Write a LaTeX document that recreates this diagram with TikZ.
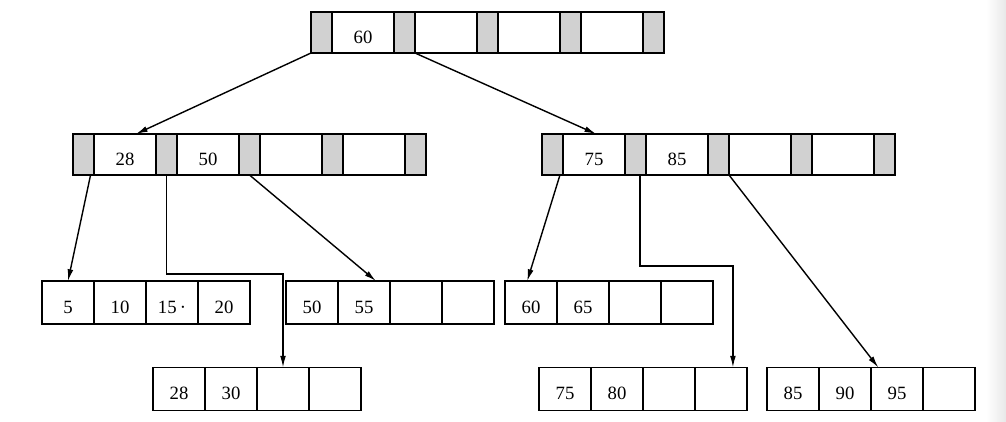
\documentclass[tikz,border=0pt]{standalone}
\usepackage{fontspec}
\setmainfont{Liberation Serif}
\usepackage{tikz}
\usetikzlibrary{positioning,arrows.meta}
\tikzset{
	ptr/.style={draw, line width=1.4pt, fill=black!18, minimum width=0.63cm, minimum height=1.23cm, inner sep=0pt, outer sep=0pt},
	key/.style={draw, line width=1.4pt, minimum width=1.86cm, minimum height=1.23cm, inner sep=0pt, outer sep=0pt, text height=18pt, text depth=0pt, font=\fontsize{16}{19}\selectfont},
	leaf/.style={draw, line width=1.4pt, minimum width=1.56cm, minimum height=1.29cm, inner sep=0pt, outer sep=0pt, text height=18pt, text depth=0pt, font=\fontsize{16}{19}\selectfont},
	link/.style={line width=1.2pt, -{Latex[length=10pt,width=5pt]}}
}

\begin{document}
\begin{tikzpicture}[x=0.03cm, y=-0.03cm]
		%%%%% START %%%%%
		\useasboundingbox (0, 0) rectangle (1006, 422);
		\shade[left color=white, right color=black!9] (986, 0) rectangle (1006, 422);
		
		% root
		\node[ptr, anchor=west] (rp1) at (311, 32.5) {};
		\node[key, right=0pt of rp1] (rk1) {60};
		\node[ptr, right=0pt of rk1] (rp2) {};
		\node[key, right=0pt of rp2] (rk2) {};
		\node[ptr, right=0pt of rk2] (rp3) {};
		\node[key, right=0pt of rp3] (rk3) {};
		\node[ptr, right=0pt of rk3] (rp4) {};
		\node[key, right=0pt of rp4] (rk4) {};
		\node[ptr, right=0pt of rk4] (rp5) {};
		
		% inner left
		\node[ptr, anchor=west] (ap1) at (73, 154.5) {};
		\node[key, right=0pt of ap1] (ak1) {28};
		\node[ptr, right=0pt of ak1] (ap2) {};
		\node[key, right=0pt of ap2] (ak2) {50};
		\node[ptr, right=0pt of ak2] (ap3) {};
		\node[key, right=0pt of ap3] (ak3) {};
		\node[ptr, right=0pt of ak3] (ap4) {};
		\node[key, right=0pt of ap4] (ak4) {};
		\node[ptr, right=0pt of ak4] (ap5) {};
		
		% inner right
		\node[ptr, anchor=west] (bp1) at (542, 154.5) {};
		\node[key, right=0pt of bp1] (bk1) {75};
		\node[ptr, right=0pt of bk1] (bp2) {};
		\node[key, right=0pt of bp2] (bk2) {85};
		\node[ptr, right=0pt of bk2] (bp3) {};
		\node[key, right=0pt of bp3] (bk3) {};
		\node[ptr, right=0pt of bk3] (bp4) {};
		\node[key, right=0pt of bp4] (bk4) {};
		\node[ptr, right=0pt of bk4] (bp5) {};
		
		% leaves
		\node[leaf, anchor=west] (la1) at (42, 302.5) {5};
		\node[leaf, right=0pt of la1] (la2) {10};
		\node[leaf, right=0pt of la2] (la3) {15\,·};
		\node[leaf, right=0pt of la3] (la4) {20};
		
		\node[leaf, anchor=west] (lb1) at (286, 302.5) {50};
		\node[leaf, right=0pt of lb1] (lb2) {55};
		\node[leaf, right=0pt of lb2] (lb3) {};
		\node[leaf, right=0pt of lb3] (lb4) {};
		
		\node[leaf, anchor=west] (lc1) at (153, 389) {28};
		\node[leaf, right=0pt of lc1] (lc2) {30};
		\node[leaf, right=0pt of lc2] (lc3) {};
		\node[leaf, right=0pt of lc3] (lc4) {};
		
		\node[leaf, anchor=west] (ld1) at (505, 302.5) {60};
		\node[leaf, right=0pt of ld1] (ld2) {65};
		\node[leaf, right=0pt of ld2] (ld3) {};
		\node[leaf, right=0pt of ld3] (ld4) {};
		
		\node[leaf, anchor=west] (le1) at (539, 389) {75};
		\node[leaf, right=0pt of le1] (le2) {80};
		\node[leaf, right=0pt of le2] (le3) {};
		\node[leaf, right=0pt of le3] (le4) {};
		
		\node[leaf, anchor=west] (lf1) at (767, 389) {85};
		\node[leaf, right=0pt of lf1] (lf2) {90};
		\node[leaf, right=0pt of lf2] (lf3) {95};
		\node[leaf, right=0pt of lf3] (lf4) {};
		
		% pointers
		\draw[link] (rp1.south west) -- (ak1.62);
		\draw[link] (rp2.south east) -- (bk1.84);
		
		\draw[link] (ap1.-71) -- (la1.north);
		\draw[link] (ap2.south) -- ++(0, 99) -| (lc3.north);
		\draw[link] (ap3.south) -- (lb2.61);
		
		\draw[link] (bp1.-70) -- (ld1.100);
		\draw[link] (bp2.-78) -- ++(0, 91) -| (le4.61);
		\draw[link] (bp3.south east) -- (lf3.131);
		
		%%%%% END %%%%%
	\end{tikzpicture}
\end{document}
